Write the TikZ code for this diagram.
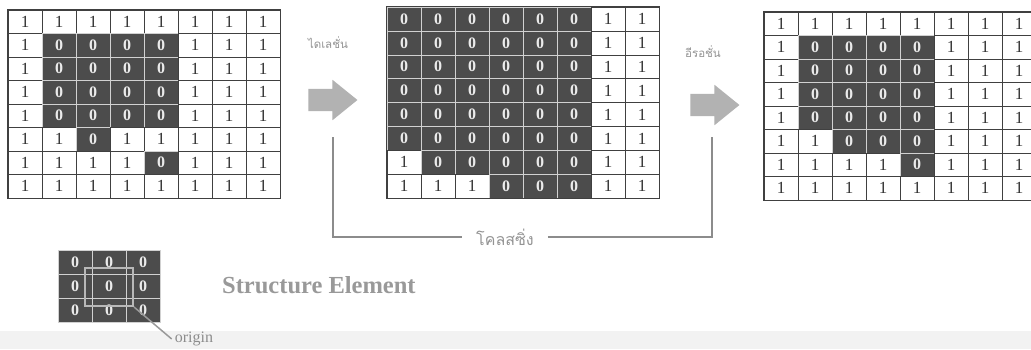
\documentclass[tikz,border=0pt]{standalone}
\usepackage{fontspec}
\setmainfont{Liberation Serif}
\newfontfamily\thaifont[Script=Thai]{Loma}
\usetikzlibrary{shapes.arrows}

\tikzset{
  cell/.style={minimum width=34pt, minimum height=23.5pt, inner sep=0pt, line width=0.6pt},
  cell1/.style={cell, draw=black!75, fill=white, text=black!80, font=\fontsize{17}{17}\selectfont},
  cell0/.style={cell, draw=black!18, fill=black!70, text=black!8, font=\fontsize{16}{16}\selectfont\bfseries},
  bigarrow/.style={single arrow, fill=black!30, inner xsep=0pt, inner ysep=11pt, minimum height=49pt,
    single arrow head extend=9pt, single arrow tip angle=78},
  thailabel/.style={text=black!42, inner sep=0pt, font=\thaifont\fontsize{11.5}{11.5}\selectfont},
  closeline/.style={draw=black!45, line width=1.4pt},
}

\begin{document}
\begin{tikzpicture}[x=1pt, y=-1pt]
\clip (0, 0) rectangle (1031, 349);
\fill[white] (0, 0) rectangle (1031, 349);
\fill[black!5] (0, 331) rectangle (1031, 349);

% input image
\foreach \row [count=\r] in {{1,1,1,1,1,1,1,1},{1,0,0,0,0,1,1,1},{1,0,0,0,0,1,1,1},{1,0,0,0,0,1,1,1},
    {1,0,0,0,0,1,1,1},{1,1,0,1,1,1,1,1},{1,1,1,1,0,1,1,1},{1,1,1,1,1,1,1,1}}
  \foreach \v [count=\c] in \row
    \node[cell\v] (in-\r-\c) at (34*\c - 9, 23.5*\r - 1.75) {\v};
\draw[black!75, line width=0.8pt] (in-1-1.north west) rectangle (in-8-8.south east);

% after dilation
\foreach \row [count=\r] in {{0,0,0,0,0,0,1,1},{0,0,0,0,0,0,1,1},{0,0,0,0,0,0,1,1},{0,0,0,0,0,0,1,1},
    {0,0,0,0,0,0,1,1},{0,0,0,0,0,0,1,1},{1,0,0,0,0,0,1,1},{1,1,1,0,0,0,1,1}}
  \foreach \v [count=\c] in \row
    \node[cell\v, minimum height=23.9pt] (dl-\r-\c) at (34*\c + 370, 23.9*\r - 4.95) {\v};
\draw[black!75, line width=0.8pt] (dl-1-1.north west) rectangle (dl-8-8.south east);

% after erosion
\foreach \row [count=\r] in {{1,1,1,1,1,1,1,1},{1,0,0,0,0,1,1,1},{1,0,0,0,0,1,1,1},{1,0,0,0,0,1,1,1},
    {1,0,0,0,0,1,1,1},{1,1,0,0,0,1,1,1},{1,1,1,1,0,1,1,1},{1,1,1,1,1,1,1,1}}
  \foreach \v [count=\c] in \row
    \node[cell\v] (er-\r-\c) at (34*\c + 747, 23.5*\r + 0.25) {\v};
\draw[black!75, line width=0.8pt] (er-1-1.north west) rectangle (er-8-8.south east);

% arrows and labels
\node[thailabel] (dlab) at (328, 43) {ไดเลชั่น};
\node[bigarrow] (dil) at (326, 100) {};
\node[thailabel] (elab) at (703, 52) {อีรอชั่น};
\node[bigarrow] (ero) at (708, 105) {};

\coordinate (dfoot) at (333, 137);
\coordinate (efoot) at (712, 137);
\node[thailabel, inner xsep=14pt, font=\thaifont\fontsize{16}{16}\selectfont] (cls) at (505, 237) {โคลสซิ่ง};
\draw[closeline] (dfoot) |- (cls.west);
\draw[closeline] (cls.east) -| (efoot);

% structure element
\foreach \r in {1,2,3}
  \foreach \c in {1,2,3}
    \node[cell0, minimum height=24pt] (se-\r-\c) at (34*\c + 41, 24*\r + 238) {0};
\node[draw=black!28, line width=2pt, minimum width=48pt, minimum height=38pt] (obox) at (109, 287) {};
\node[text=black!45, font=\fontsize{16}{16}\selectfont, inner sep=3pt] (orgtxt) at (194, 339) {origin};
\draw[black!40, line width=1.5pt] (obox.south east) -- (orgtxt.west);
\node[anchor=west, inner sep=0pt, text=black!40, font=\fontsize{24.5}{24.5}\selectfont\bfseries] (setxt) at (222, 285) {Structure Element};
\end{tikzpicture}
\end{document}
